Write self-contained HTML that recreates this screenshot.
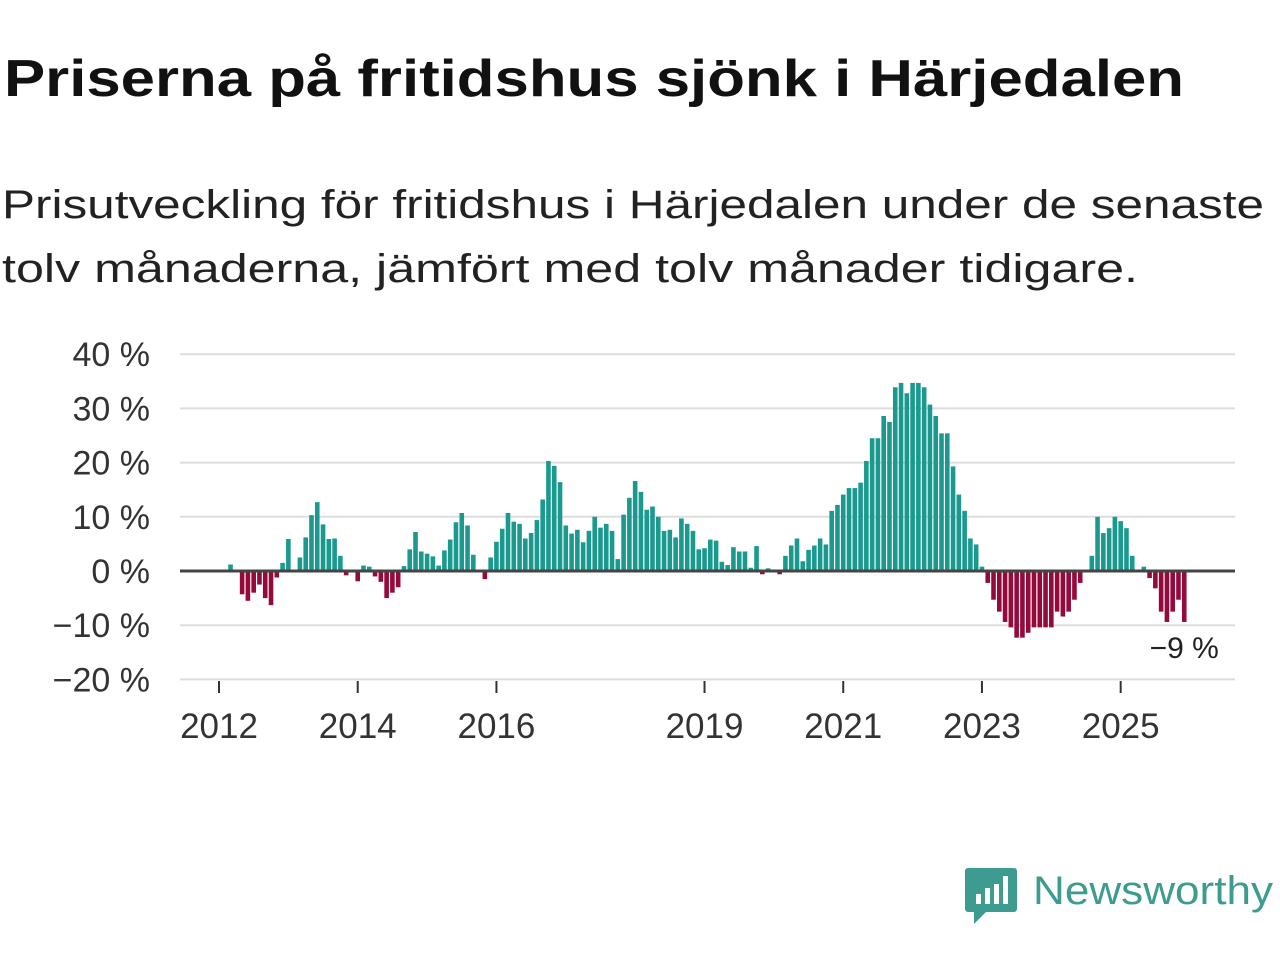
<!DOCTYPE html>
<html><head><meta charset="utf-8"><style>
html,body{margin:0;padding:0;background:#fff;}
svg{display:block;font-family:"Liberation Sans",sans-serif;}
</style></head><body>
<svg id="chart" width="1280" height="960" viewBox="0 0 1280 960">
<text x="4" y="96" font-size="52" font-weight="bold" fill="#111" textLength="1180" lengthAdjust="spacingAndGlyphs">Priserna på fritidshus sjönk i Härjedalen</text>
<text x="2" y="218" font-size="40" fill="#222" textLength="1262" lengthAdjust="spacingAndGlyphs">Prisutveckling för fritidshus i Härjedalen under de senaste</text>
<text x="2" y="282" font-size="40" fill="#222" textLength="1136" lengthAdjust="spacingAndGlyphs">tolv månaderna, jämfört med tolv månader tidigare.</text>
<g id="grid"></g>
<g id="yaxis"></g>
<g id="xaxis"></g>
<g id="bars"></g>
<line id="zero"></line>
<g id="ann"></g>
<g>
<path d="M968 868 h46 a3 3 0 0 1 3 3 v38 a3 3 0 0 1 -3 3 h-28 l-12 12 v-12 h-6 a3 3 0 0 1 -3 -3 v-38 a3 3 0 0 1 3 -3z" fill="#3d9b8f"/>
<rect x="976" y="894" width="5" height="10" fill="#fff"/><rect x="985" y="888" width="5" height="16" fill="#fff"/><rect x="994" y="884" width="5" height="20" fill="#fff"/><rect x="1003" y="876" width="5" height="28" fill="#fff"/>
<text x="1033" y="904" font-size="40" fill="#3d9b8f" textLength="240" lengthAdjust="spacingAndGlyphs">Newsworthy</text>
</g>
</svg>
<script>
const startYear = 2012;
const values = [null,null,1.2,null,-4.3,-5.5,-4,-2.5,-5,-6.3,-1.2,1.5,
5.9,null,2.5,6.2,10.3,12.7,8.6,5.9,6.0,2.8,-0.8,null,
-1.9,1,0.8,-1,-2,-5,-4,-3,0.9,4,7.2,3.6,
3.2,2.7,1,3.8,5.8,9,10.7,8.4,3,null,-1.5,2.5,
5.4,7.8,10.7,9.1,8.7,6,7,9.4,13.2,20.3,19.4,16.4,
8.4,6.9,7.6,5.3,7.4,10,8,8.7,7.4,2.2,10.4,13.5,
16.6,14.6,11.3,11.9,10,7.4,7.6,6.2,9.7,8.7,7.4,4,
4.2,5.8,5.6,1.7,1.1,4.4,3.6,3.6,0.6,4.6,-0.6,0.5,
null,-0.6,2.8,4.7,6,1.8,3.9,4.7,6,4.9,11.1,12.2,
14.1,15.3,15.3,16.3,20.3,24.5,24.5,28.6,27.5,33.9,34.7,32.8,
34.7,34.7,33.9,30.7,28.6,25.4,25.4,19.3,14.1,11.1,6,4.9,
0.8,-2.2,-5.3,-7.5,-9.4,-10.4,-12.3,-12.3,-11.4,-10.4,-10.4,-10.4,
-10.4,-7.5,-8.4,-7.5,-5.3,-2.2,null,2.8,10,7,7.9,10,
9.2,7.9,2.8,null,0.8,-1.3,-3.2,-7.5,-9.4,-7.5,-5.3,-9.4];
const yTicks = [40,30,20,10,0,-10,-20];
const yTickLabels = ["40 %","30 %","20 %","10 %","0 %","\u221210 %","\u221220 %"];
const xTickYears = [2012,2014,2016,2019,2021,2023,2025];
const lastLabel = "\u22129 %";

const NS="http://www.w3.org/2000/svg";
const x0=219, monthW=5.78, plotL=180, plotR=1235;
const y=v=>571-(v)*5.42;
const x=m=>x0+m*monthW;
function el(t,a,p){const e=document.createElementNS(NS,t);for(const k in a)e.setAttribute(k,a[k]);document.getElementById(p).appendChild(e);return e;}
yTicks.forEach((t,i)=>{
  const g=el('line',{x1:plotL,x2:plotR,y1:y(t),y2:y(t),stroke:'#ddd','stroke-width':2},'grid');
  
  
  const l=el('text',{x:150,y:y(t)+12,'font-size':34,'text-anchor':'end',fill:'#333'},'yaxis');
  l.textContent=yTickLabels[i];
  
  
});
xTickYears.forEach(yr=>{
  const xx=x((yr-startYear)*12);
  const tk=el('line',{x1:xx,x2:xx,y1:681,y2:693,stroke:'#333','stroke-width':2},'xaxis');
  
  
  const l=el('text',{x:xx,y:738,'font-size':35,'text-anchor':'middle',fill:'#333'},'xaxis');
  l.textContent=yr;
  
  
});
values.forEach((v,m)=>{
  if(v===null||v===0)return;
  const xx=x(m), y1=Math.min(y(v),y(0)), h=Math.abs(y(v)-y(0));
  const r=el('rect',{x:xx-2.3,y:y1,width:4.6,height:h,fill:v>0?'#1a9a8e':'#950a3c'},'bars');
  
  
});
const z=document.getElementById('zero');
z.setAttribute('x1',plotL);z.setAttribute('x2',plotR);z.setAttribute('y1',y(0));z.setAttribute('y2',y(0));
z.setAttribute('stroke','#444');z.setAttribute('stroke-width',3);
const lm=values.length-1;
const a=el('text',{x:x(lm),y:y(values[lm])+36,'font-size':30,'text-anchor':'middle',fill:'#222'},'ann');
a.textContent=lastLabel;


</script>
</body></html>
